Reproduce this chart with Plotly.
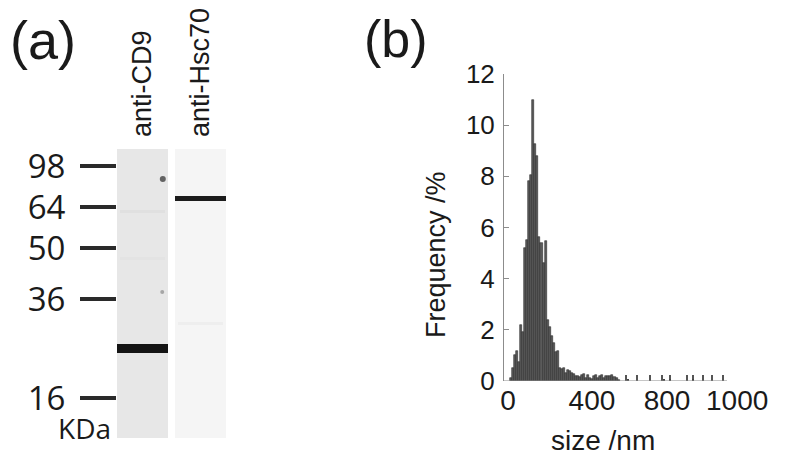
import plotly.graph_objects as go

W, H = 787, 459
PAGE_MARGIN = 8  # the html body margin shifts the figure by this much

# ---- panel (a): western blot ---------------------------------------------
LANES = ["anti-CD9", "anti-Hsc70"]
LANE_SHADE = ["#e7e7e7", "#f5f5f5"]
LADDER_KDA = ["98", "64", "50", "36", "16"]
LADDER_MIGRATION = [5.9, 20.1, 34.3, 51.9, 86.2]   # relative migration, 0 = top of gel
BAND_LANE = [0, 1]
BAND_MIGRATION = [69.0, 17.2]
FAINT_LANE = [0, 0, 1]
FAINT_MIGRATION = [21.5, 38.0, 60.5]
SPECK_X = [0.35, 0.34]
SPECK_MIGRATION = [10.4, 49.5]

# ---- panel (b): size distribution ------------------------------------------
SIZE_NM = [35, 45, 55, 65, 75, 85, 95, 105, 115, 125, 135, 145, 155, 165, 175,
           185, 195, 205, 215, 225, 235, 245, 255, 265, 275, 285, 295, 305, 315,
           325, 335, 345, 355, 365, 375, 385, 395, 405, 415, 425, 435, 445, 455,
           465, 475, 485, 495, 505, 515, 525, 535, 545, 555, 565]
FREQ_PCT = [0.10, 0.50, 1.02, 1.18, 0.76, 2.20, 1.93, 5.20, 5.53, 7.80, 8.05,
            11.00, 9.25, 8.80, 5.63, 5.40, 4.60, 5.46, 2.37, 2.13, 1.74, 1.50,
            1.15, 1.19, 0.50, 0.46, 0.50, 0.30, 0.42, 0.38, 0.32, 0.28, 0.20,
            0.20, 0.14, 0.25, 0.28, 0.10, 0.22, 0.12, 0.08, 0.20, 0.22, 0.10,
            0.18, 0.22, 0.12, 0.20, 0.18, 0.20, 0.25, 0.15, 0.10, 0.05]
TAIL_NM = [602, 656, 720, 779, 819, 903, 932, 982, 1026, 1081]
TAIL_PCT = [0.22, 0.22, 0.22, 0.22, 0.22, 0.22, 0.22, 0.22, 0.22, 0.22]
STRAY_NM = [612, 790, 818, 932]
STRAY_PCT = [0.08, 0.08, 0.06, 0.08]
XTICK_TEXT = ["0", "400", "800", "1000"]
XTICK_AT = [20, 434, 804, 1150]
YTICKS = [0, 2, 4, 6, 8, 10, 12]
X_AXIS_END = 1100


def px_x(p):
    return (p - PAGE_MARGIN) / W


def px_y(p):
    return 1 - (p - PAGE_MARGIN) / H


BLOT_FONT = "Open Sans, Noto Sans, sans-serif"
PLOT_FONT = "Liberation Sans, Arial, sans-serif"
INK = "#1a1a1a"
LANE_W = 0.88
BAND_THICK = [3.3, 1.6]   # in migration units
FAINT_THICK = 1.0
LANE_PX = [142.5, 200.5]  # lane centres on the page, for the rotated labels

fig = go.Figure()

# MARK: blot lanes and bands
lane_x = list(range(len(LANES)))
fig.add_trace(go.Bar(
    x=lane_x, y=[100] * len(LANES), base=[0] * len(LANES), width=LANE_W,
    marker=dict(color=LANE_SHADE, line=dict(width=0)),
    xaxis="x", yaxis="y", hoverinfo="skip",
))
fig.add_trace(go.Bar(
    x=FAINT_LANE, y=[FAINT_THICK] * len(FAINT_LANE),
    base=[m - FAINT_THICK / 2 for m in FAINT_MIGRATION], width=LANE_W * 0.9,
    marker=dict(color=["#e0e0e0", "#e3e3e3", "#eeeeee"], line=dict(width=0)),
    xaxis="x", yaxis="y", hoverinfo="skip",
))
fig.add_trace(go.Bar(
    x=BAND_LANE, y=BAND_THICK,
    base=[m - t / 2 for m, t in zip(BAND_MIGRATION, BAND_THICK)], width=LANE_W,
    marker=dict(color=["#141414", "#1c1c1c"], line=dict(width=0)),
    xaxis="x", yaxis="y", hoverinfo="skip",
))
fig.add_trace(go.Scatter(
    x=SPECK_X, y=SPECK_MIGRATION, mode="markers",
    marker=dict(size=[6, 4], color=["#2a2a2a", "#8a8a8a"], line=dict(width=0)),
    xaxis="x", yaxis="y", hoverinfo="skip",
))

# MARK: histogram
fig.add_trace(go.Bar(
    x=SIZE_NM, y=FREQ_PCT, width=10,
    marker=dict(color="#5a5a5a", line=dict(color="#2e2e2e", width=0.6)),
    xaxis="x2", yaxis="y2",
))
fig.add_trace(go.Bar(
    x=TAIL_NM, y=TAIL_PCT, width=3,
    marker=dict(color="#555555", line=dict(width=0)),
    xaxis="x2", yaxis="y2",
))
fig.add_trace(go.Bar(
    x=STRAY_NM, y=STRAY_PCT, width=10,
    marker=dict(color="#444444", line=dict(width=0)),
    xaxis="x2", yaxis="y2",
))

# bottom axis line stops at the end of the size range, labels run a bit further
fig.add_shape(type="line", x0=0, x1=X_AXIS_END, y0=0, y1=0, xref="x2", yref="y2",
              line=dict(color="#8c8c8c", width=1))

annotations = [
    dict(text="(a)", x=px_x(43), y=1, yanchor="top", font=dict(size=54, family=PLOT_FONT)),
    dict(text="(b)", x=px_x(396), y=1, yanchor="top", font=dict(size=52, family=PLOT_FONT)),
    dict(text="KDa", x=px_x(113), y=px_y(428), xanchor="right",
         font=dict(size=28, family=BLOT_FONT)),
    dict(text="Frequency /%", x=px_x(436), y=px_y(255), textangle=-90,
         font=dict(size=27, family=PLOT_FONT)),
    dict(text="size /nm", x=px_x(603), y=px_y(440), font=dict(size=28, family=PLOT_FONT)),
]
for lane, cx in zip(LANES, LANE_PX):
    annotations.append(dict(text=lane, x=px_x(cx), y=px_y(139), yanchor="bottom",
                            textangle=-90, font=dict(size=27, family=PLOT_FONT)))
for a in annotations:
    a.setdefault("xref", "paper")
    a.setdefault("yref", "paper")
    a.setdefault("showarrow", False)
    a.setdefault("xanchor", "center")
    a.setdefault("yanchor", "middle")
    a["font"].setdefault("color", INK)

x2_lo, x2_hi = px_x(504), px_x(727)
x2_range_hi = 1200
x2_dom_hi = x2_lo + (x2_hi - x2_lo) * x2_range_hi / X_AXIS_END

fig.update_layout(
    width=W, height=H, autosize=False,
    margin=dict(l=0, r=0, t=0, b=0, pad=0),
    paper_bgcolor="white", plot_bgcolor="rgba(0,0,0,0)",
    showlegend=False, bargap=0, barmode="overlay",
    annotations=annotations,
    xaxis=dict(
        domain=[px_x(117), px_x(226)], anchor="y", range=[-LANE_W / 2, 1 + LANE_W / 2],
        showticklabels=False, ticks="", showline=False, showgrid=False,
        zeroline=False, automargin=False,
    ),
    yaxis=dict(
        domain=[px_y(438), px_y(149)], anchor="x", range=[100, 0],
        tickvals=LADDER_MIGRATION, ticktext=LADDER_KDA,
        ticks="outside", ticklen=36, tickwidth=4, tickcolor="#2a2a2a",
        showline=False, showgrid=False, zeroline=False, ticklabelstandoff=8,
        tickfont=dict(size=33, family=BLOT_FONT, color=INK), automargin=False,
    ),
    xaxis2=dict(
        domain=[x2_lo, x2_dom_hi], anchor="y2", range=[0, x2_range_hi],
        tickvals=XTICK_AT, ticktext=XTICK_TEXT, ticks="", ticklabelstandoff=0,
        tickfont=dict(size=28, family=PLOT_FONT, color=INK),
        showline=False, showgrid=False, zeroline=False, automargin=False,
    ),
    yaxis2=dict(
        domain=[px_y(381), px_y(74)], anchor="x2", range=[0, 12],
        tickvals=YTICKS, ticks="inside", ticklen=5, tickcolor="#8c8c8c",
        showline=True, linecolor="#8c8c8c", linewidth=1,
        showgrid=False, zeroline=False, ticklabelstandoff=3,
        tickfont=dict(size=26, family=PLOT_FONT, color=INK), automargin=False,
    ),
)

fig.write_html("out.html")
